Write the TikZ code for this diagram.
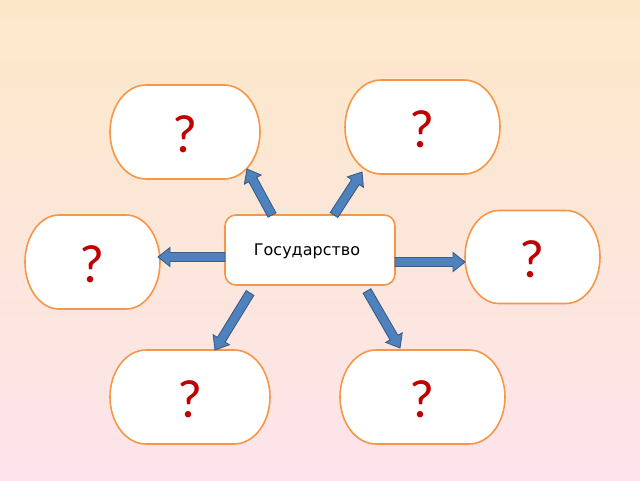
\documentclass[tikz,border=0pt]{standalone}
\usepackage{fontspec}
\setmainfont{DejaVu Sans}
\newfontfamily\qfont{Carlito}
\usetikzlibrary{calc}
\definecolor{bgtop}{HTML}{FCE8C8}
\definecolor{bgbot}{HTML}{FDE4EC}
\definecolor{ovalline}{HTML}{F79646}
\definecolor{arrfill}{HTML}{4F81BD}
\definecolor{arrline}{HTML}{385D8A}
\definecolor{qred}{HTML}{C00000}
\tikzset{
  ovaltext/.style={inner sep=0pt, text=qred, font=\qfont\fontsize{54}{54}\selectfont},
  ovalline/.style={draw=ovalline, line width=1.6pt, fill=white},
  centerbox/.style={draw=ovalline, line width=1.6pt, fill=white, rounded corners=11pt,
    minimum width=170pt, minimum height=70pt, inner sep=0pt},
  blockarrow/.style={draw=arrline, fill=arrfill, line width=0.9pt, line join=miter}
}
% #1 name, #2 center, #3 width (pt), #4 height (pt), #5 end radius (pt)
\newcommand{\ovalnode}[5]{%
  \coordinate (#1-c) at #2;
  \path[ovalline] let \p1=(#1-c) in
    ({\x1-#3/2+#5},{\y1+#4/2}) -- ({\x1+#3/2-#5},{\y1+#4/2})
    arc[start angle=90, end angle=-90, x radius=#5pt, y radius=#4/2*1pt]
    -- ({\x1-#3/2+#5},{\y1-#4/2})
    arc[start angle=270, end angle=90, x radius=#5pt, y radius=#4/2*1pt] -- cycle;
  \node[ovaltext, minimum width=#3pt, minimum height=#4pt] (#1) at ($(#1-c)+(0,2)$) {?};}
\newcommand{\blockarr}[2]{%
  \path[blockarrow] let \p1=($(#2)-(#1)$), \n1={atan2(\y1,\x1)}, \n2={veclen(\x1,\y1)} in
    [shift={(#1)}, rotate=\n1]
    (0pt,-4.5pt) -- ({\n2-12pt},-4.5pt) -- ({\n2-12pt},-9.5pt) -- ({\n2},0pt)
    -- ({\n2-12pt},9.5pt) -- ({\n2-12pt},4.5pt) -- (0pt,4.5pt) -- cycle;}
\begin{document}
\begin{tikzpicture}[x=1pt,y=-1pt]
  \shade[top color=bgtop, bottom color=bgbot] (0,0) rectangle (640,480);
  \useasboundingbox (0,0) rectangle (640,480);
  \ovalnode{tl}{(185,132)}{150}{94}{36}
  \ovalnode{tr}{(422.5,127)}{155}{94}{36}
  \ovalnode{l}{(92.5,262)}{135}{94}{34}
  \ovalnode{r}{(532.5,257)}{135}{93}{34}
  \ovalnode{bl}{(190,397)}{160}{94}{36}
  \ovalnode{br}{(422.5,397)}{165}{94}{36}
  \node[centerbox] (c) at (310,250) {};
  \node[font=\fontsize{16}{18}\selectfont] (ct) at (307,251) {Государство};
  \coordinate (s1) at (272,215); \coordinate (e1) at (247,169);
  \coordinate (s2) at (334,215); \coordinate (e2) at (362,172);
  \coordinate (s3) at (225,257); \coordinate (e3) at (158,257);
  \coordinate (s4) at (395,262); \coordinate (e4) at (465,262);
  \coordinate (s5) at (250,293); \coordinate (e5) at (215,350);
  \coordinate (s6) at (367,291); \coordinate (e6) at (400,348);
  \blockarr{s1}{e1}
  \blockarr{s2}{e2}
  \blockarr{s3}{e3}
  \blockarr{s4}{e4}
  \blockarr{s5}{e5}
  \blockarr{s6}{e6}
\end{tikzpicture}
\end{document}
